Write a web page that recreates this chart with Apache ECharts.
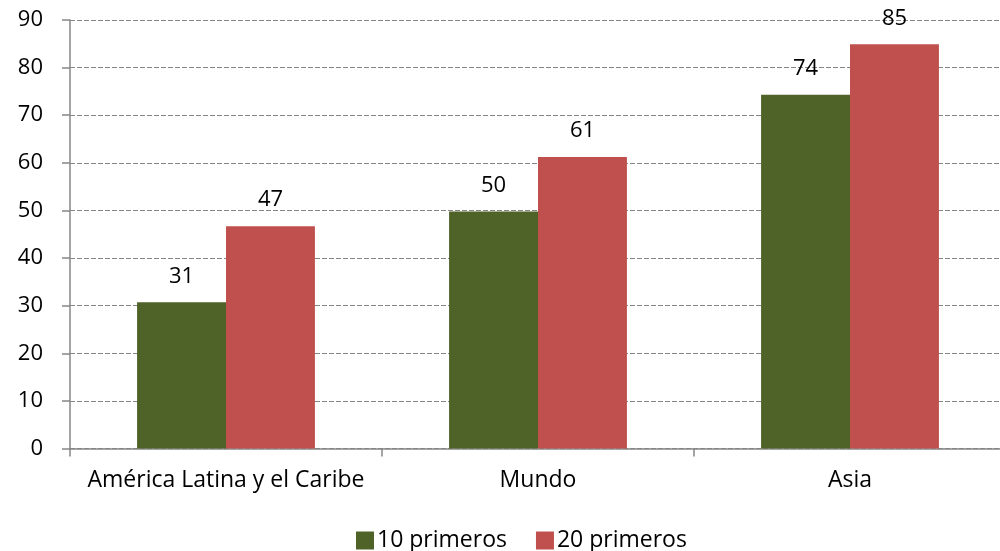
<!DOCTYPE html>
<html><head><meta charset="utf-8">
<script src="https://cdn.jsdelivr.net/npm/echarts@6/dist/echarts.min.js"></script>
<style>html,body{margin:0;padding:0;background:#fff;overflow:hidden}#c{width:1006px;height:551px}</style>
</head><body><div id="c"></div>
<script>
const categories = ["América Latina y el Caribe", "Mundo", "Asia"];
const seriesNames = ["10 primeros", "20 primeros"];
const top10 = [30.7, 49.8, 74.3];
const top20 = [46.7, 61.2, 84.9];
const colors = ["#4F6228", "#C0504D"];
const FONT = "Open Sans";
const chart = echarts.init(document.getElementById('c'));
const label = {show:true, position:'top', distance:15, color:'#000', fontFamily:FONT, fontSize:22,
  formatter: p => Math.round(p.value)};
chart.setOption({
  animation:false,
  textStyle:{fontFamily:FONT},
  grid:{left:70, right:0, top:20, bottom:102.5, containLabel:false},
  legend:{top:524, left:351, itemWidth:18, itemHeight:18, itemGap:29, icon:'rect',
    textStyle:{fontFamily:FONT, fontSize:23, color:'#000', padding:[0,0,0,-2]}, data:seriesNames},
  xAxis:{type:'category', data:categories,
    axisLine:{lineStyle:{color:'#868686', width:1.5}},
    axisTick:{show:true, interval:0, length:8, lineStyle:{color:'#868686', width:1.5}},
    axisLabel:{interval:0, color:'#000', fontFamily:FONT, fontSize:23, margin:20}},
  yAxis:{type:'value', min:0, max:90, interval:10,
    axisLine:{show:true, lineStyle:{color:'#868686', width:1.5}},
    axisTick:{show:true, length:8, lineStyle:{color:'#868686', width:1.5}},
    axisLabel:{color:'#000', fontFamily:FONT, fontSize:22, margin:27},
    splitLine:{lineStyle:{color:'#868686', type:[5,2], width:1}}},
  series:[
    {name:seriesNames[0], type:'bar', data:top10, itemStyle:{color:colors[0]}, barGap:'0%', barCategoryGap:'43%', label},
    {name:seriesNames[1], type:'bar', data:top20, itemStyle:{color:colors[1]}, barGap:'0%', barCategoryGap:'43%', label}
  ]
});
</script></body></html>
